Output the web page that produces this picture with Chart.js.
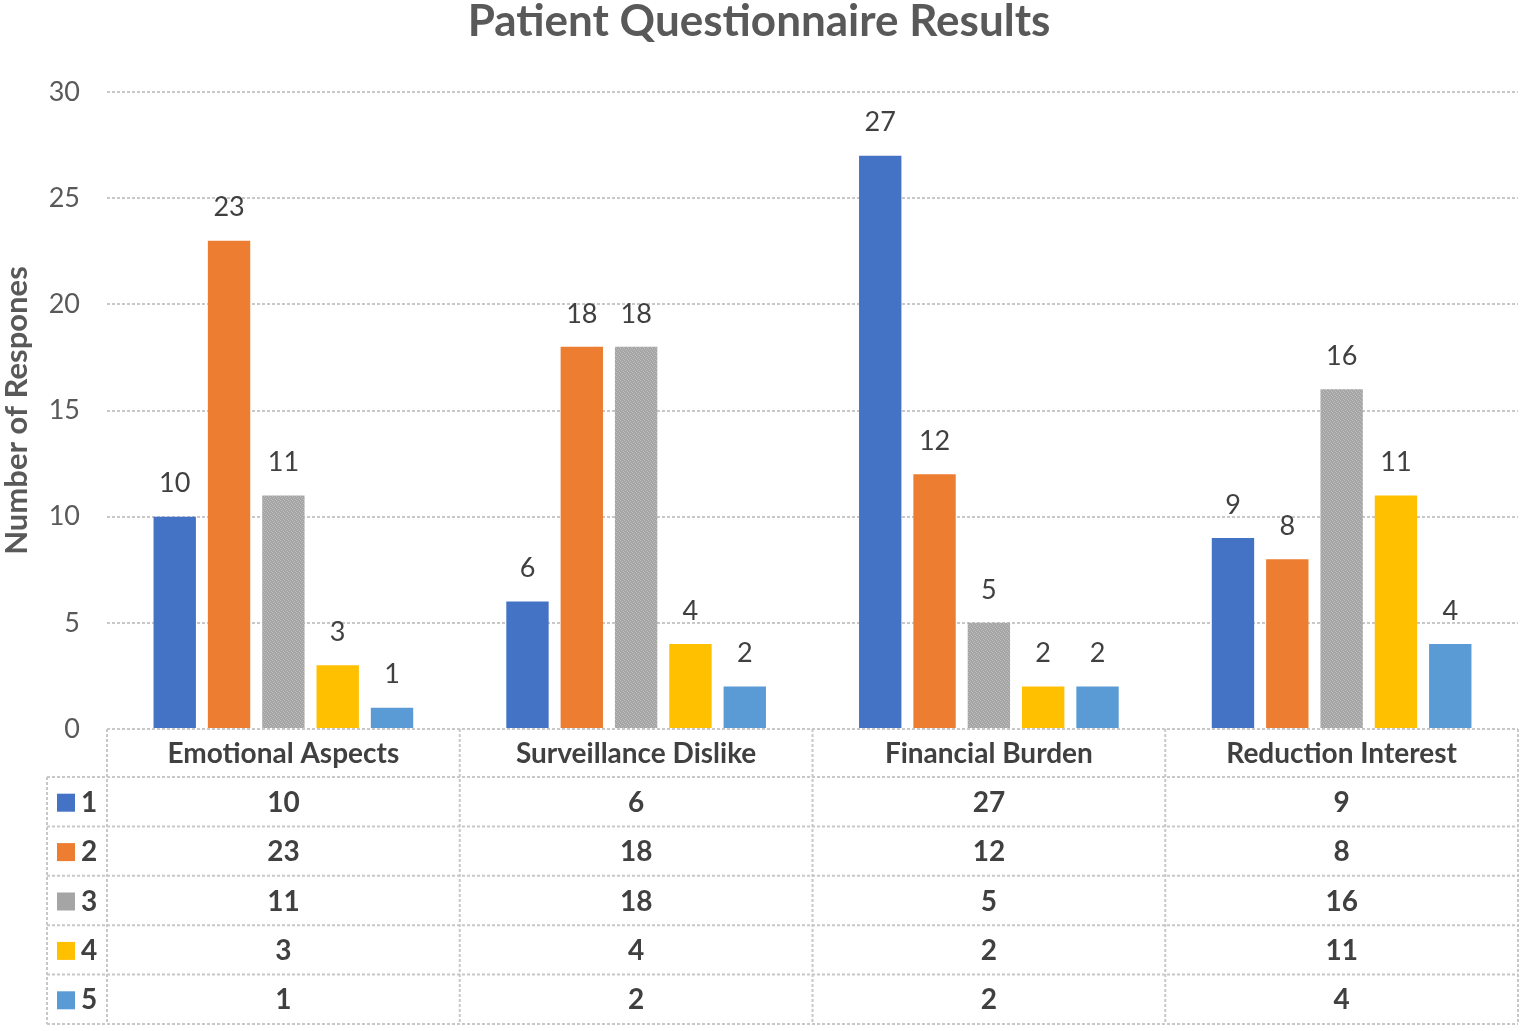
<!DOCTYPE html>
<html lang="en">
<head>
  <meta charset="UTF-8">
  <title>Patient Questionnaire Results</title>
  <script src="https://cdn.jsdelivr.net/npm/chart.js"></script>
  <style>
    body { margin: 0; background: #fff; }
    canvas { display: block; }
  </style>
</head>
<body>
  <canvas id="questionChart" width="1524" height="1031"></canvas>

  <script>
    // data
    const categories = ['Emotional Aspects', 'Surveillance Dislike', 'Financial Burden', 'Reduction Interest'];
    const seriesNames = ['1', '2', '3', '4', '5'];
    const series1 = [10, 6, 27, 9];
    const series2 = [23, 18, 12, 8];
    const series3 = [11, 18, 5, 16];
    const series4 = [3, 4, 2, 11];
    const series5 = [1, 2, 2, 4];
    const yTicks = [0, 5, 10, 15, 20, 25, 30];

    const FONT = 'Lato, "Open Sans", sans-serif';
    const TEXT = '#404040';
    const LINE = '#c8c8c8';

    // grey bar with a fine woven texture like the Excel pattern fill
    function greyPattern() {
      const c = document.createElement('canvas');
      c.width = 4; c.height = 4;
      const g = c.getContext('2d');
      g.fillStyle = '#a5a5a5';
      g.fillRect(0, 0, 4, 4);
      g.fillStyle = '#bdbdbd';
      g.fillRect(0, 0, 1, 1); g.fillRect(2, 1, 1, 1);
      g.fillRect(1, 2, 1, 1); g.fillRect(3, 3, 1, 1);
      return g.createPattern(c, 'repeat');
    }

    const colors = ['#4472c4', '#ed7d31', greyPattern(), '#ffc000', '#5b9bd5'];
    const keyColors = ['#4472c4', '#ed7d31', '#a5a5a5', '#ffc000', '#5b9bd5'];
    const allSeries = [series1, series2, series3, series4, series5];

    // numbers on top of each bar
    const valueLabels = {
      id: 'valueLabels',
      afterDatasetsDraw(chart) {
        const ctx = chart.ctx;
        ctx.save();
        ctx.font = '27px ' + FONT;
        ctx.fillStyle = TEXT;
        ctx.textAlign = 'center';
        ctx.textBaseline = 'middle';
        chart.data.datasets.forEach((ds, i) => {
          chart.getDatasetMeta(i).data.forEach((bar, j) => {
            ctx.fillText(ds.data[j], bar.x, bar.y - 33);
          });
        });
        ctx.restore();
      }
    };

    // data table under the plot
    const dataTable = {
      id: 'dataTable',
      afterDraw(chart) {
        const ctx = chart.ctx;
        const area = chart.chartArea;
        const xs = chart.scales.x;
        const colW = (area.right - area.left) / categories.length;
        const top = area.bottom;
        const headH = 48;
        const rowH = 49.4;
        const keyLeft = 47;
        const bottom = top + headH + rowH * seriesNames.length;

        ctx.save();
        ctx.strokeStyle = LINE;
        ctx.lineWidth = 2;
        ctx.setLineDash([3, 2]);
        ctx.beginPath();
        // horizontal lines
        ctx.moveTo(area.left, top); ctx.lineTo(area.right, top);
        for (let r = 0; r <= seriesNames.length; r++) {
          const y = top + headH + r * rowH;
          ctx.moveTo(keyLeft, y); ctx.lineTo(area.right, y);
        }
        // vertical lines
        ctx.moveTo(keyLeft, top + headH); ctx.lineTo(keyLeft, bottom);
        for (let c = 0; c <= categories.length; c++) {
          const x = area.left + c * colW;
          ctx.moveTo(x, top); ctx.lineTo(x, bottom);
        }
        ctx.stroke();
        ctx.setLineDash([]);

        ctx.fillStyle = TEXT;
        ctx.textBaseline = 'middle';
        ctx.textAlign = 'center';
        ctx.font = 'bold 28px ' + FONT;
        categories.forEach((cat, c) => {
          ctx.fillText(cat, xs.getPixelForValue(c), top + headH / 2 + 1);
        });

        allSeries.forEach((vals, r) => {
          const cy = top + headH + rowH * r + rowH / 2 + 1;
          ctx.fillStyle = keyColors[r];
          ctx.fillRect(57, cy - 9, 18, 18);
          ctx.fillStyle = TEXT;
          ctx.textAlign = 'left';
          ctx.font = 'bold 28px ' + FONT;
          ctx.fillText(seriesNames[r], 81, cy);
          ctx.textAlign = 'center';
          ctx.font = 'bold 28px ' + FONT;
          vals.forEach((v, c) => {
            ctx.fillText(v, xs.getPixelForValue(c), cy);
          });
        });
        ctx.restore();
      }
    };

    const ctx = document.getElementById('questionChart').getContext('2d');
    new Chart(ctx, {
      type: 'bar',
      data: {
        labels: categories,
        datasets: seriesNames.map((name, i) => ({
          label: name,
          data: allSeries[i],
          backgroundColor: colors[i],
          borderWidth: 0,
          categoryPercentage: 0.77,
          barPercentage: 0.78
        }))
      },
      options: {
        responsive: false,
        animation: false,
        layout: { padding: { left: 0, right: 6, top: 0, bottom: 302 } },
        plugins: {
          legend: { display: false },
          tooltip: { enabled: false },
          title: {
            display: true,
            text: 'Patient Questionnaire Results',
            color: '#595959',
            font: { family: FONT, size: 44, weight: 'bold', lineHeight: 1.0 },
            padding: { top: 0, bottom: 48 }
          }
        },
        scales: {
          x: {
            display: false
          },
          y: {
            min: 0,
            max: 30,
            afterBuildTicks: s => { s.ticks = yTicks.map(v => ({ value: v })); },
            afterFit: s => { s.width = 107; },
            border: { display: false, dash: [3, 2] },
            grid: {
              color: LINE,
              lineWidth: 2,
              drawTicks: false
            },
            ticks: {
              color: '#595959',
              padding: 27,
              font: { family: FONT, size: 27 }
            },
            title: {
              display: true,
              text: 'Number of Respones',
              color: '#595959',
              padding: 0,
              font: { family: FONT, size: 31, weight: 'bold', lineHeight: 1.1 }
            }
          }
        }
      },
      plugins: [valueLabels, dataTable]
    });
  </script>
</body>
</html>
